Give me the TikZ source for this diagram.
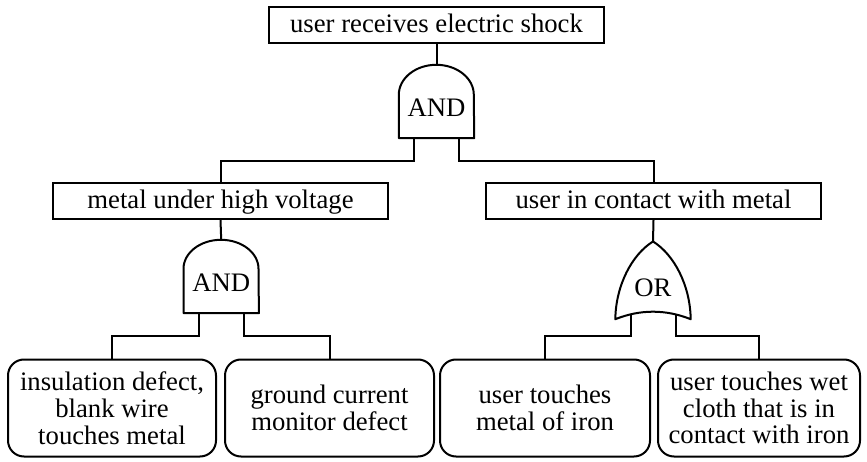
\documentclass[tikz,border=0pt]{standalone}
\usepackage{fontspec}
\setmainfont{Liberation Serif}
\usetikzlibrary{calc}
\tikzset{
  every node/.style={font=\fontsize{26.7pt}{26.8pt}\selectfont},
  evbox/.style={draw, line width=2pt, rectangle, minimum width=335pt, minimum height=36pt, inner sep=0pt, text height=17pt, text depth=1pt},
  leaf/.style={draw, line width=2pt, rounded corners=16pt, minimum height=97pt, inner sep=0pt, align=center},
  gatebox/.style={minimum width=75pt, inner sep=0pt},
  gatetxt/.style={inner sep=0pt},
  gateline/.style={line width=2pt, line join=round},
  conn/.style={line width=2pt},
}
\begin{document}
\begin{tikzpicture}[x=1pt,y=-1pt]
\useasboundingbox (0,0) rectangle (867,462);

% event boxes
\node[evbox] (top) at (436.5,25) {user receives electric shock};
\node[evbox] (m1) at (220.5,201) {metal under high voltage};
\node[evbox] (m2) at (653.5,201) {user in contact with metal};

% leaves
\node[leaf, minimum width=208pt] (b1) at (112,408) {insulation defect,\\blank wire\\touches metal};
\node[leaf, minimum width=209pt] (b2) at (329.5,408) {ground current\\monitor defect};
\node[leaf, minimum width=210pt] (b3) at (545,408) {user touches\\metal of iron};
\node[leaf, minimum width=202pt] (b4) at (759,408) {user touches wet\\cloth that is in\\contact with iron};

% gate 1 (AND)
\node[gatebox, minimum height=73pt] (g1) at (436.5,101.5) {};
\node[gatetxt] (g1t) at ($(g1)+(0,6)$) {AND};
\draw[gateline] (g1.south west) -- ($(g1.north west)+(0,30)$)
  arc[start angle=180, end angle=0, x radius=37.5pt, y radius=30pt]
  -- (g1.south east) -- cycle;

% gate 2 (AND)
\node[gatebox, minimum height=73pt] (g2) at (221.2,276.5) {};
\node[gatetxt] (g2t) at ($(g2)+(0,6)$) {AND};
\draw[gateline] (g2.south west) -- ($(g2.north west)+(0,29)$)
  arc[start angle=180, end angle=0, x radius=37.5pt, y radius=29pt]
  -- (g2.south east) -- cycle;

% gate 3 (OR)
\node[gatebox, minimum height=77.3pt] (o) at (653,280.35) {};
\node[gatetxt] (ot) at ($(o)+(0,7.5)$) {OR};
\draw[gateline] (o.south west)
  .. controls ($(o.south west)+(0.5,-34)$) and ($(o.north)+(-21,13)$) .. (o.north)
  .. controls ($(o.north)+(21,13)$) and ($(o.south east)+(-0.5,-34)$) .. (o.south east)
  .. controls ($(o.south east)+(-25,-10)$) and ($(o.south west)+(25,-10)$) .. (o.south west) -- cycle;

% connectors
\draw[conn] (top.south) -- (g1.north);
\draw[conn] ([xshift=-22.5pt]g1.south) -- ++(0,23) -| (m1.north);
\draw[conn] ([xshift=22.5pt]g1.south) -- ++(0,23) -| (m2.north);

\draw[conn] (m1.south) -- (g2.north);
\draw[conn] ([xshift=-22.5pt]g2.south) -- ++(0,23) -| (b1.north);
\draw[conn] ([xshift=22.5pt]g2.south) -- ++(0,23) -| (b2.north);

\draw[conn] (m2.south) -- (o.north);
\draw[conn] ([xshift=-22.5pt,yshift=5pt]o.south) -- ++(0,22) -| (b3.north);
\draw[conn] ([xshift=22.5pt,yshift=5pt]o.south) -- ++(0,22) -| (b4.north);
\end{tikzpicture}
\end{document}
